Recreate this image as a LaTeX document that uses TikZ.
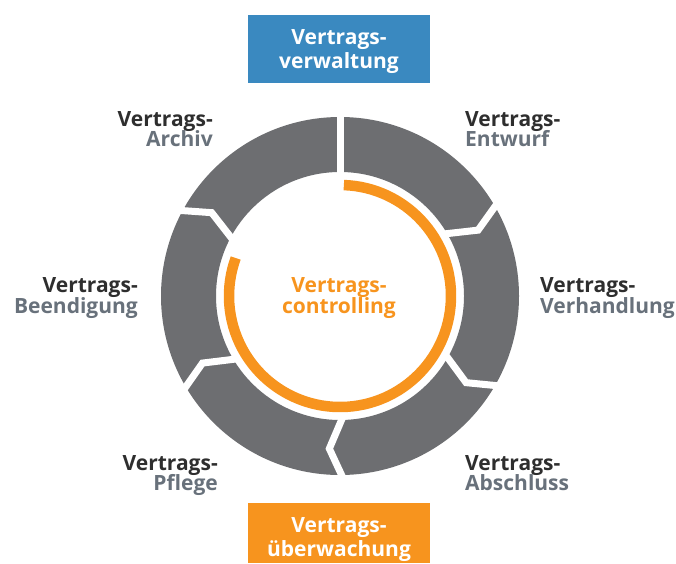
\documentclass[tikz,border=0pt]{standalone}
\usepackage{fontspec}
\setmainfont{Open Sans}
\definecolor{ringgray}{HTML}{6D6E71}
\definecolor{orng}{HTML}{F7941E}
\definecolor{blu}{HTML}{3A89C0}
\definecolor{dk}{HTML}{2E2E2E}
\definecolor{lg}{HTML}{68717B}
\begin{document}
\begin{tikzpicture}[x=1pt,y=1pt,
  txt/.style={inner sep=0pt, font=\bfseries\fontsize{21}{24}\selectfont},
  top/.style={txt, text=dk},
  bot/.style={txt, text=lg},
  gapline/.style={draw=white, line width=7pt, line join=miter, miter limit=10}]
\useasboundingbox (0,0) rectangle (676,563);
% boxes
\node[fill=blu, minimum width=182pt, minimum height=68pt, inner sep=0pt, anchor=south west] (boxA) at (248,480) {};
\node[fill=orng, minimum width=182pt, minimum height=60pt, inner sep=0pt, anchor=south west] (boxB) at (248,0) {};
\node[txt, text=white, anchor=base] (boxA1) at (339,518) {Vertrags-};
\node[txt, text=white, anchor=base] (boxA2) at (339,494) {verwaltung};
\node[txt, text=white, anchor=base] (boxB1) at (339,31) {Vertrags-};
\node[txt, text=white, anchor=base] (boxB2) at (339,7) {überwachung};
% ring
\begin{scope}[shift={(340,267)}]
  \fill[ringgray, even odd rule] (0,0) circle (179pt) (0,0) circle (124pt);
  \draw[gapline] (90:190) -- (90:118);
  \draw[gapline] (31.5:190) -- (25.5:153) -- (31.5:118);
  \draw[gapline] (-28.5:190) -- (-34.5:153) -- (-28.5:118);
  \draw[gapline] (-88:190) -- (-94:153) -- (-88:118);
  \draw[gapline] (-148:190) -- (-154:153) -- (-148:118);
  \draw[gapline] (153:190) -- (147:153) -- (153:118);
  \draw[orng, line width=10.5pt] (88:111) arc[start angle=88, end angle=-200, radius=111pt];
\end{scope}
% center text
\node[txt, text=orng, anchor=base] (c1) at (339,271) {Vertrags-};
\node[txt, text=orng, anchor=base] (c2) at (339,250) {controlling};
% labels
\node[top, anchor=base west] (en1) at (465,436) {Vertrags-};
\node[bot, anchor=base west] (en2) at (465,416) {Entwurf};
\node[top, anchor=base east] (ar1) at (213,436) {Vertrags-};
\node[bot, anchor=base east] (ar2) at (213,416) {Archiv};
\node[top, anchor=base west] (ve1) at (540,271) {Vertrags-};
\node[bot, anchor=base west] (ve2) at (540,250) {Verhandlung};
\node[top, anchor=base east] (be1) at (138,271) {Vertrags-};
\node[bot, anchor=base east] (be2) at (138,250) {Beendigung};
\node[top, anchor=base east] (pf1) at (218,93) {Vertrags-};
\node[bot, anchor=base east] (pf2) at (218,73) {Pflege};
\node[top, anchor=base west] (ab1) at (465,93) {Vertrags-};
\node[bot, anchor=base west] (ab2) at (465,73) {Abschluss};
\end{tikzpicture}
\end{document}
